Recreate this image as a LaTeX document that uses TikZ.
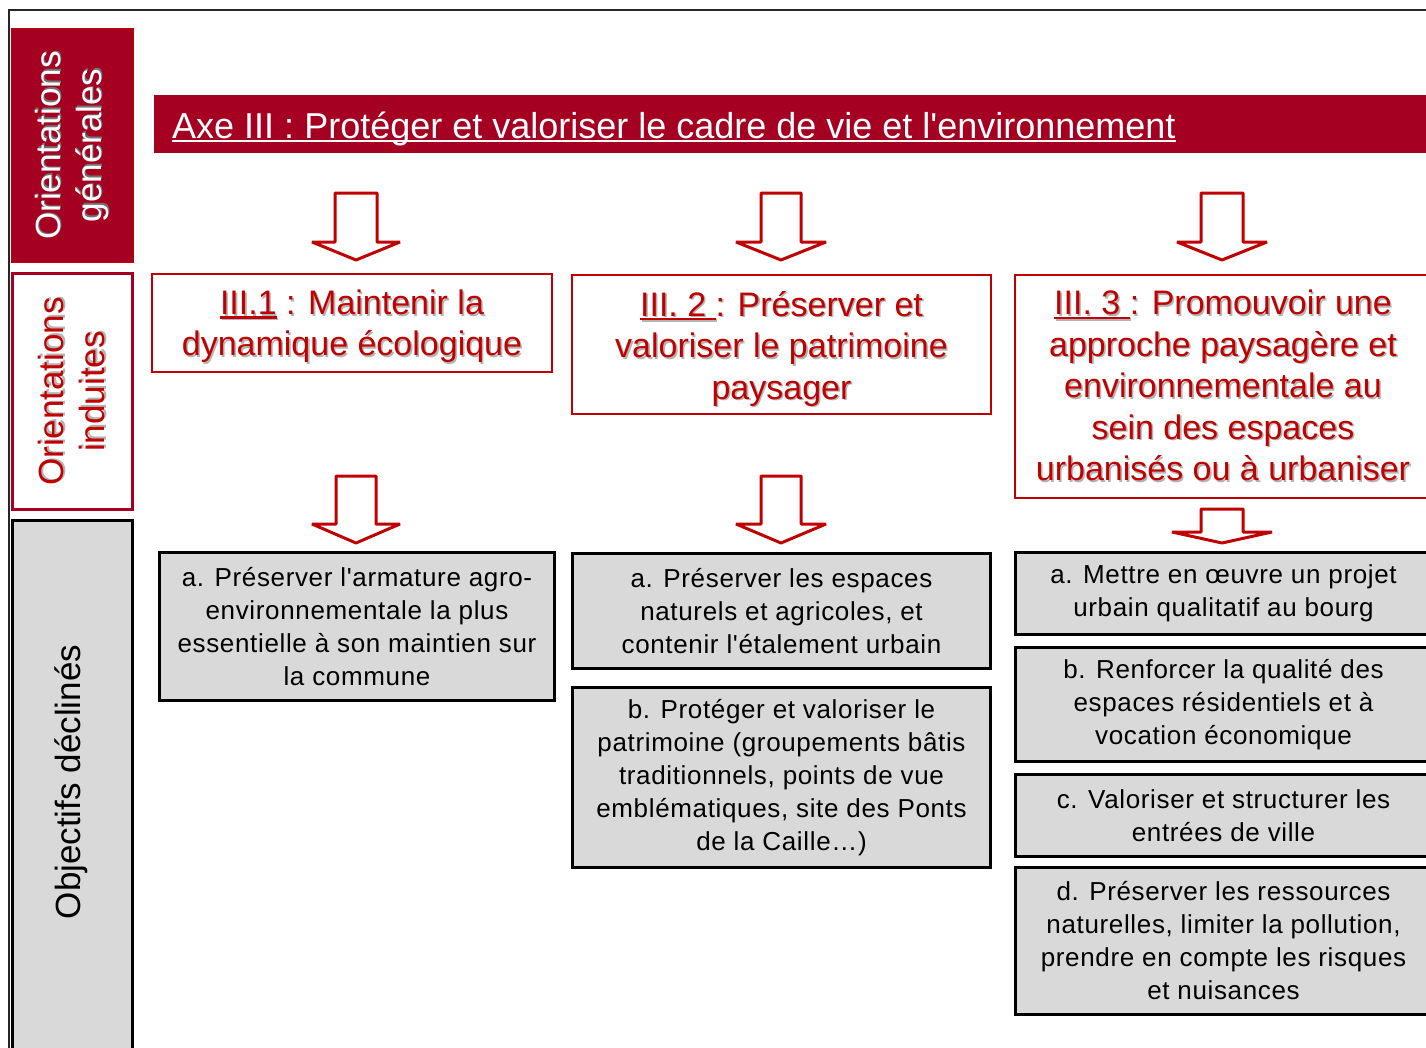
\documentclass[tikz,border=0pt]{standalone}
\usepackage{fontspec}
\setmainfont{Liberation Sans}
\newfontfamily\plainfont{Liberation Sans}
\newfontfamily\grayfont[LetterSpace=2.5]{Liberation Sans}
\definecolor{banner}{HTML}{A50021}
\definecolor{hred}{HTML}{C00000}
\definecolor{boxgray}{HTML}{D9D9D9}
\definecolor{shadowc}{HTML}{B4B4B4}
\newsavebox\ulbx
\newcommand\ulx[1]{\sbox\ulbx{#1}\rlap{\rule[-0.12em]{\wd\ulbx}{0.07em}}\usebox\ulbx}
\newcommand\shd[2][shadowc]{\rlap{\kern1.6pt\raisebox{-1.6pt}{\textcolor{#1}{#2}}}#2}
\newcommand\barr[6]{%
  \draw[barrow] (#1-#5,#2) -- (#1+#5,#2) -- (#1+#5,#3) -- (#1+#6,#3) -- (#1,#4)
    -- (#1-#6,#3) -- (#1-#5,#3) -- cycle;}
\begin{document}
\begin{tikzpicture}[x=1pt,y=-1pt,
  redhead/.style={draw=hred, line width=2pt, fill=white, text=hred, align=center,
    inner sep=0pt, anchor=north west, font=\plainfont\fontsize{34}{41.5}\selectfont},
  graybox/.style={draw=black, line width=3pt, fill=boxgray, align=center,
    inner sep=0pt, anchor=north west, font=\grayfont\fontsize{26}{33}\selectfont},
  sidebox/.style={inner sep=0pt, anchor=north west},
  sidetext/.style={rotate=90, align=center, inner sep=0pt, font=\plainfont\fontsize{35}{41}\selectfont},
  barrow/.style={draw=hred, line width=3pt, fill=white, line join=bevel},
]
\useasboundingbox (0,0) rectangle (1426,1047);
\clip (0,0) rectangle (1426,1047);
\fill[white] (0,0) rectangle (1426,1047);
% outer frame
\draw[line width=2pt, black!85] (8.5,1060) -- (8.5,10) -- (1440,10);

% left column
\node[sidebox, draw=hred, line width=1pt, fill=banner, minimum width=122, minimum height=234] (og) at (11,28) {};
\node[sidetext, text=white] (ogt) at (og.center) {\shd[black!55]{Orientations}\\\shd[black!55]{générales}};
\node[sidebox, draw=banner, line width=3pt, fill=white, minimum width=120, minimum height=236] (oi) at (11,272) {};
\node[sidetext, text=hred] (oit) at (oi.center) {\shd{Orientations}\\\shd{induites}};
\node[sidebox, draw=black, line width=3pt, fill=boxgray, minimum width=120, minimum height=560] (od) at (11,519) {};
\node[sidetext, text=black] (odt) at (71,782) {Objectifs déclinés};

% banner
\node[sidebox, fill=banner, minimum width=1276, minimum height=58] (axe) at (154,95) {};
\node[anchor=base west, text=white, inner sep=0pt, font=\plainfont\fontsize{36}{40}\selectfont] (axet) at (172,138)
  {\ulx{Axe III : Protéger et valoriser le cadre de vie et l'environnement}};

% orientations induites
\node[redhead, minimum width=400, minimum height=98] (h1) at (151,273)
  {\rule{0pt}{33pt}\shd{\ulx{III.1} : Maintenir la}\\\shd{dynamique écologique}};
\node[redhead, minimum width=419, minimum height=139] (h2) at (571,274)
  {\rule{0pt}{35pt}\shd{\ulx{III. 2 }: Préserver et}\\\shd{valoriser le patrimoine}\\\shd{paysager}};
\node[redhead, minimum width=416, minimum height=223] (h3) at (1014,274)
  {\shd{\ulx{III. 3 }: Promouvoir une}\\\shd{approche paysagère et}\\\shd{environnementale au}\\\shd{sein des espaces}\\\shd{urbanisés ou à urbaniser}};

% arrows
\barr{356}{193}{242}{260}{21}{44}
\barr{781}{193}{242}{260}{20}{45}
\barr{1222}{193}{242}{260}{21}{45}
\barr{356}{476}{524}{543}{20}{44}
\barr{781}{476}{524}{543}{20}{45}
\barr{1222}{509}{532}{543}{21}{50}

% objectifs
\node[graybox, minimum width=395, minimum height=148] (g1a) at (158,551)
  {a. Préserver l'armature agro-\\environnementale la plus\\essentielle à son maintien sur\\la commune};
\node[graybox, minimum width=418, minimum height=115] (g2a) at (571,552)
  {a. Préserver les espaces\\naturels et agricoles, et\\contenir l'étalement urbain};
\node[graybox, minimum width=418, minimum height=180] (g2b) at (571,686)
  {b. Protéger et valoriser le\\patrimoine (groupements bâtis\\traditionnels, points de vue\\emblématiques, site des Ponts\\de la Caille…)};
\node[graybox, minimum width=416, minimum height=82] (g3a) at (1014,551)
  {a. Mettre en œuvre un projet\\urbain qualitatif au bourg};
\node[graybox, minimum width=416, minimum height=114] (g3b) at (1014,646)
  {b. Renforcer la qualité des\\espaces résidentiels et à\\vocation économique};
\node[graybox, minimum width=416, minimum height=82] (g3c) at (1014,773)
  {c. Valoriser et structurer les\\entrées de ville};
\node[graybox, minimum width=416, minimum height=147] (g3d) at (1014,866)
  {d. Préserver les ressources\\naturelles, limiter la pollution,\\prendre en compte les risques\\et nuisances};
\end{tikzpicture}
\end{document}
